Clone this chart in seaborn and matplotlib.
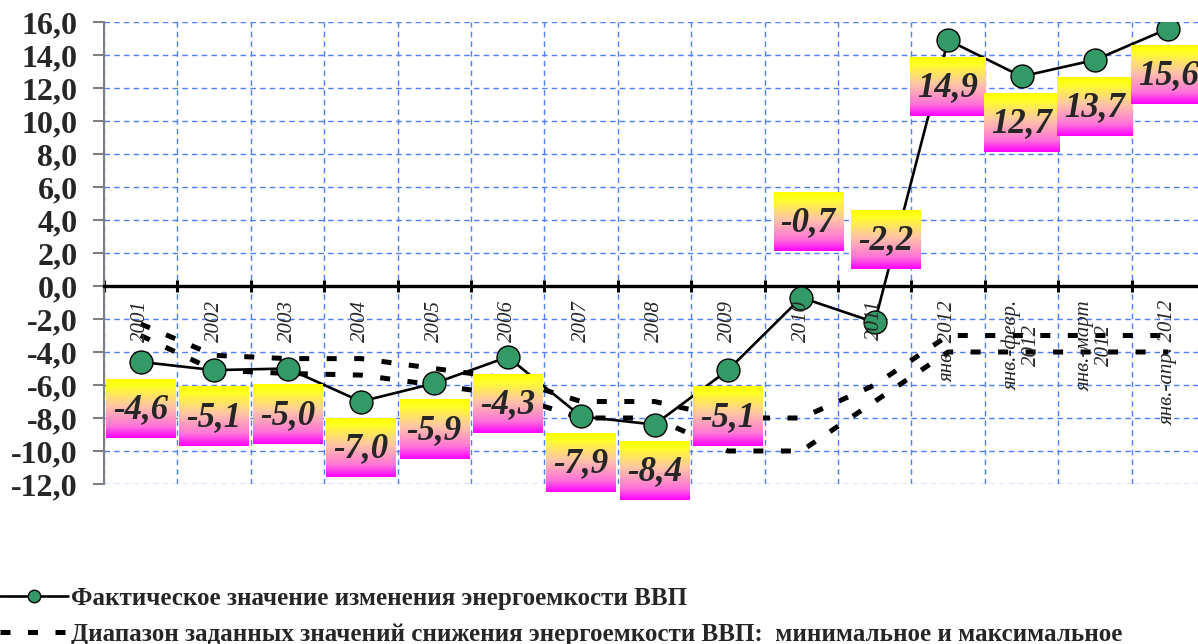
import numpy as np
import matplotlib
matplotlib.use("Agg")
import matplotlib.pyplot as plt
import seaborn as sns
from matplotlib.lines import Line2D
from matplotlib.ticker import FuncFormatter, NullFormatter

# ---------------- data ----------------
categories = ["2001", "2002", "2003", "2004", "2005", "2006", "2007", "2008",
              "2009", "2010", "2011", "янв. 2012", "янв.-февр.\n2012",
              "янв.-март\n2012", "янв.-апр. 2012"]
actual = [-4.6, -5.1, -5.0, -7.0, -5.9, -4.3, -7.9, -8.4, -5.1, -0.7, -2.2,
          14.9, 12.7, 13.7, 15.6]
target_min = [-2.3, -4.2, -4.4, -4.4, -5.0, -5.6, -7.0, -7.0, -8.0, -8.0, -6.0,
              -3.0, -3.0, -3.0, -3.0]
target_max = [-3.0, -5.1, -5.3, -5.4, -6.0, -6.6, -8.0, -8.0, -10.0, -10.0, -7.0,
              -4.0, -4.0, -4.0, -4.0]
y_ticks = list(range(-12, 17, 2))
legend_labels = ["Фактическое значение изменения энергоемкости ВВП",
                 "Диапазон заданных значений снижения энергоемкости ВВП:  минимальное и максимальное"]

# ---------------- style ----------------
sns.set_theme(style="white")
plt.rcParams["font.family"] = ["Liberation Serif", "DejaVu Serif"]

W, H = 1198, 644
fig = plt.figure(figsize=(W / 100, H / 100), dpi=100)
ax = fig.add_axes([104 / W, (H - 484) / H, (W - 104) / W, 462 / H])

x = np.arange(len(categories))
grid_blue = "#4f7fff"
dash_pat = (2.0, 3.5)
XLIM = (-0.5, -0.5 + (W - 104) / 73.4)

# target range lines
for series in (target_min, target_max):
    sns.lineplot(x=x, y=series, ax=ax, color="black", lw=3.6, zorder=3,
                 estimator=None, sort=False)
for ln in ax.get_lines():
    ln.set_dashes(dash_pat)
    ln.set_dash_capstyle("butt")

# actual line
sns.lineplot(x=x, y=actual, ax=ax, color="black", lw=1.9, marker="o",
             markersize=16.5, markerfacecolor="#339966",
             markeredgecolor="black", markeredgewidth=1.0, zorder=4,
             estimator=None, sort=False)

# axes
ax.set_xlim(*XLIM)
ax.set_ylim(-12, 16)
ax.set_yticks(y_ticks)
ax.yaxis.set_major_formatter(FuncFormatter(lambda v, p: f"{v:.1f}".replace(".", ",")))
ax.tick_params(axis="y", which="major", direction="out", length=8, width=1.5,
               color="#7f7f7f", pad=11, labelsize=23, left=True)

ax.set_xticks(x)
ax.xaxis.set_major_formatter(NullFormatter())
ax.tick_params(axis="x", which="major", length=0)
ax.set_xticks(np.arange(-0.5, len(categories), 1), minor=True)
ax.xaxis.set_minor_formatter(NullFormatter())
ax.tick_params(axis="x", which="minor", direction="inout", length=9, width=2.2,
               color="black", bottom=True)

# category labels (rotated, just under the zero axis)
for i, c in enumerate(categories):
    ax.annotate(c, xy=(i, 0), xytext=(0, -10), textcoords="offset points",
                rotation=90, ha="center", va="top", multialignment="center",
                fontsize=15, fontstyle="italic", zorder=5,
                annotation_clip=False, linespacing=1.05)

ax.spines["bottom"].set_position(("data", 0))
ax.spines["bottom"].set_linewidth(2.4)
ax.spines["bottom"].set_color("black")
ax.spines["bottom"].set_zorder(2.5)
ax.spines["left"].set_color("#7f7f7f")
ax.spines["left"].set_linewidth(1.5)
ax.spines["top"].set_visible(False)
ax.spines["right"].set_visible(False)

ax.grid(False)
ax.yaxis.grid(True, which="major", color=grid_blue, linestyle=(0, (4, 3)), lw=1.0)
ax.xaxis.grid(True, which="minor", color=grid_blue, linestyle=(0, (4, 3)), lw=1.0)
ax.set_axisbelow(True)
ax.set_xlabel("")
ax.set_ylabel("")

# value labels
special = {9: (5, 54), 10: (8, 59)}
texts = []
for i, v in enumerate(actual):
    dx, dy = special.get(i, (0, -34))
    t = ax.annotate(f"{v:.1f}".replace(".", ","), xy=(i, v), xytext=(dx, dy),
                    textcoords="offset points", ha="center", va="center",
                    fontsize=25, fontweight="bold", fontstyle="italic",
                    zorder=7, annotation_clip=False)
    texts.append(t)

# legend
h1 = Line2D([], [], color="black", lw=1.9, marker="o", markersize=9,
            markerfacecolor="#339966", markeredgecolor="black", markeredgewidth=1)
h2 = Line2D([], [], color="black", lw=3.6, dashes=dash_pat)
fig.legend([h1, h2], legend_labels, loc="upper left",
           bbox_to_anchor=(0.0, 1 - 587 / H), frameon=False,
           prop={"weight": "bold", "size": 18}, handlelength=2.7,
           handletextpad=0.15, labelspacing=0.5, borderaxespad=0, borderpad=0)

fig.canvas.draw()
for lab in ax.get_yticklabels():
    lab.set_fontweight("bold")

# gradient boxes behind value labels
fig.canvas.draw()
r = fig.canvas.get_renderer()
inv = ax.transData.inverted()
stops = np.array([[1, 1, 0], [1, 1, 0.15], [1, 0.78, 0.65], [1, 0.45, 0.85], [1, 0, 1]])
pos = np.array([0, 0.12, 0.45, 0.8, 1.0])
tt = np.linspace(0, 1, 120)
grad = np.stack([np.interp(tt, pos, stops[:, c]) for c in range(3)], axis=1)[:, None, :]
for t in texts:
    bb = t.get_window_extent(r)
    cx = (bb.x0 + bb.x1) / 2
    cy = (bb.y0 + bb.y1) / 2 + 1
    w = bb.width + 14
    h = 59
    x0, y0 = inv.transform((cx - w / 2, cy - h / 2))
    x1, y1 = inv.transform((cx + w / 2, cy + h / 2))
    ax.imshow(grad, extent=(x0, x1, y0, y1), aspect="auto", zorder=6,
              interpolation="bilinear", clip_on=False)

ax.set_xlim(*XLIM)
ax.set_ylim(-12, 16)

fig.savefig("out.png", dpi=100)
